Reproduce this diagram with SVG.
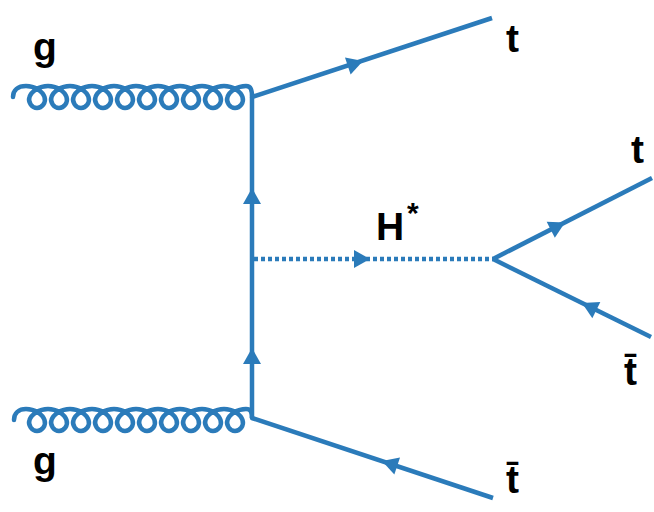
<svg xmlns="http://www.w3.org/2000/svg" width="654" height="512" viewBox="0 0 654 512">
<style>
.ln{fill:none;stroke:#2b7bba;stroke-width:4.5;stroke-linejoin:round}
.gl{fill:none;stroke:#2b7bba;stroke-width:4.5;stroke-linejoin:round;stroke-linecap:round}
.dot{fill:none;stroke:#2b7bba;stroke-width:4.5;stroke-dasharray:4 3}
.arr{fill:#2b7bba}
.lbl{font-family:"Liberation Sans",Arial,sans-serif;font-weight:bold;font-size:39px;fill:#000}
</style>
<defs>
<path id="ah" d="M0,0 L-16,-9 L-16,9 Z"/>
</defs>
<rect width="654" height="512" fill="#fff"/>
<g id="connectors">
<path id="gluon-top" class="gl" d="M13,97 C13,90 18,86 26,86 c8.64,0 16.67,5.24 18.5,11 c1.83,5.76 -2.53,11 -7.5,11 c-4.97,0 -9.33,-5.76 -7.5,-11 c1.83,-5.76 9.86,-11 18.5,-11 c8.64,0 16.67,5.24 18.5,11 c1.83,5.76 -2.53,11 -7.5,11 c-4.97,0 -9.33,-5.76 -7.5,-11 c1.83,-5.76 9.86,-11 18.5,-11 c8.64,0 16.67,5.24 18.5,11 c1.83,5.76 -2.53,11 -7.5,11 c-4.97,0 -9.33,-5.76 -7.5,-11 c1.83,-5.76 9.86,-11 18.5,-11 c8.64,0 16.67,5.24 18.5,11 c1.83,5.76 -2.53,11 -7.5,11 c-4.97,0 -9.33,-5.76 -7.5,-11 c1.83,-5.76 9.86,-11 18.5,-11 c8.64,0 16.67,5.24 18.5,11 c1.83,5.76 -2.53,11 -7.5,11 c-4.97,0 -9.33,-5.76 -7.5,-11 c1.83,-5.76 9.86,-11 18.5,-11 c8.64,0 16.67,5.24 18.5,11 c1.83,5.76 -2.53,11 -7.5,11 c-4.97,0 -9.33,-5.76 -7.5,-11 c1.83,-5.76 9.86,-11 18.5,-11 c8.64,0 16.67,5.24 18.5,11 c1.83,5.76 -2.53,11 -7.5,11 c-4.97,0 -9.33,-5.76 -7.5,-11 c1.83,-5.76 9.86,-11 18.5,-11 c8.64,0 16.67,5.24 18.5,11 c1.83,5.76 -2.53,11 -7.5,11 c-4.97,0 -9.33,-5.76 -7.5,-11 c1.83,-5.76 9.86,-11 18.5,-11 c8.64,0 16.67,5.24 18.5,11 c1.83,5.76 -2.53,11 -7.5,11 c-4.97,0 -9.33,-5.76 -7.5,-11 c1.83,-5.76 9.86,-11 18.5,-11 c8.64,0 16.67,5.24 18.5,11 c1.83,5.76 -2.53,11 -7.5,11 c-4.97,0 -9.33,-5.76 -7.5,-11 c1.83,-5.76 9.86,-11 18.5,-11 C251,86 252,90 252,97"/>
<path id="gluon-bottom" class="gl" d="M14,420 C14,413 19,409 26,409 c8.64,0 16.67,5.24 18.5,11 c1.83,5.76 -2.53,11 -7.5,11 c-4.97,0 -9.33,-5.76 -7.5,-11 c1.83,-5.76 9.86,-11 18.5,-11 c8.64,0 16.67,5.24 18.5,11 c1.83,5.76 -2.53,11 -7.5,11 c-4.97,0 -9.33,-5.76 -7.5,-11 c1.83,-5.76 9.86,-11 18.5,-11 c8.64,0 16.67,5.24 18.5,11 c1.83,5.76 -2.53,11 -7.5,11 c-4.97,0 -9.33,-5.76 -7.5,-11 c1.83,-5.76 9.86,-11 18.5,-11 c8.64,0 16.67,5.24 18.5,11 c1.83,5.76 -2.53,11 -7.5,11 c-4.97,0 -9.33,-5.76 -7.5,-11 c1.83,-5.76 9.86,-11 18.5,-11 c8.64,0 16.67,5.24 18.5,11 c1.83,5.76 -2.53,11 -7.5,11 c-4.97,0 -9.33,-5.76 -7.5,-11 c1.83,-5.76 9.86,-11 18.5,-11 c8.64,0 16.67,5.24 18.5,11 c1.83,5.76 -2.53,11 -7.5,11 c-4.97,0 -9.33,-5.76 -7.5,-11 c1.83,-5.76 9.86,-11 18.5,-11 c8.64,0 16.67,5.24 18.5,11 c1.83,5.76 -2.53,11 -7.5,11 c-4.97,0 -9.33,-5.76 -7.5,-11 c1.83,-5.76 9.86,-11 18.5,-11 c8.64,0 16.67,5.24 18.5,11 c1.83,5.76 -2.53,11 -7.5,11 c-4.97,0 -9.33,-5.76 -7.5,-11 c1.83,-5.76 9.86,-11 18.5,-11 c8.64,0 16.67,5.24 18.5,11 c1.83,5.76 -2.53,11 -7.5,11 c-4.97,0 -9.33,-5.76 -7.5,-11 c1.83,-5.76 9.86,-11 18.5,-11 c8.64,0 16.67,5.24 18.5,11 c1.83,5.76 -2.53,11 -7.5,11 c-4.97,0 -9.33,-5.76 -7.5,-11 c1.83,-5.76 9.86,-11 18.5,-11 C251,409 252,412 252,418"/>
<path id="prop-vertical" class="ln" d="M252,97 L252,418"/>
<path id="top-out" class="ln" d="M252,97 L492,18"/>
<path id="bottom-out" class="ln" d="M252,418 L493,498"/>
<path id="higgs" class="dot" d="M254,259 L493,259"/>
<path id="decay-t" class="ln" d="M493,259 L652,178"/>
<path id="decay-tbar" class="ln" d="M493,259 L651,337"/>
<use href="#ah" class="arr" transform="translate(363,61) rotate(-18.3)"/>
<use href="#ah" class="arr" transform="translate(252,188) rotate(-90)"/>
<use href="#ah" class="arr" transform="translate(252,348) rotate(-90)"/>
<use href="#ah" class="arr" transform="translate(370,259)"/>
<use href="#ah" class="arr" transform="translate(565,222.5) rotate(-27)"/>
<use href="#ah" class="arr" transform="translate(582,303) rotate(-153.6)"/>
<use href="#ah" class="arr" transform="translate(382,461) rotate(-161.6)"/>
</g>
<g id="label-g-top"><text class="lbl" x="33" y="60">g</text></g>
<g id="label-g-bottom"><text class="lbl" x="33" y="474">g</text></g>
<g id="label-t-top"><text class="lbl" x="506" y="52">t</text></g>
<g id="label-t-right"><text class="lbl" x="631" y="163">t</text></g>
<g id="label-tbar-right"><text class="lbl" x="624" y="385">t̄</text></g>
<g id="label-tbar-bottom"><text class="lbl" x="506" y="493">t̄</text></g>
<g id="label-H"><text class="lbl" x="376" y="240">H<tspan x="407" y="223" font-size="30">*</tspan></text></g>
</svg>
